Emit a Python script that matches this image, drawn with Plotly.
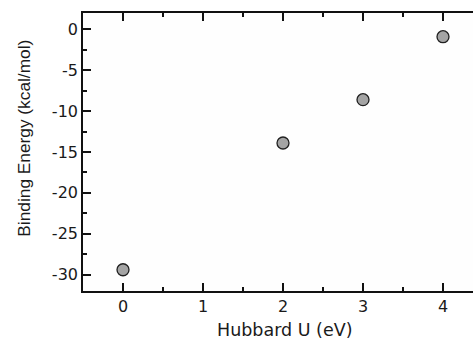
import plotly.graph_objects as go

hubbard_u = [0, 2, 3, 4]
binding_energy = [-29.4, -13.9, -8.6, -0.9]
x_ticks = [0, 1, 2, 3, 4]
y_ticks = [0, -5, -10, -15, -20, -25, -30]
y_labels = ["0", "-5", "-10", "-15", "-20", "-25", "-30"]

fig = go.Figure()
fig.add_trace(go.Scatter(
    x=hubbard_u, y=binding_energy, mode="markers",
    marker=dict(size=12, color="#a4a4a4", line=dict(color="#202020", width=1.3)),
    showlegend=False,
))

tickfont = dict(family="DejaVu Sans, sans-serif", size=16, color="#1a1a1a")
def common():
    return dict(ticks="inside", ticklen=8, tickwidth=1.6, tickcolor="#111111",
              showline=True, linecolor="#111111", linewidth=1.6,
              showgrid=False, zeroline=False)
def minor(d):
    return dict(ticks="inside", ticklen=4, dtick=d, tick0=0, tickcolor="#111111",
                tickwidth=1.6, showgrid=False)

fig.update_layout(
    width=473, height=343,
    margin=dict(l=83, r=0, t=13, b=52),
    paper_bgcolor="white", plot_bgcolor="#fefefe",
    xaxis=dict(range=[-0.5, 4.375], tickvals=x_ticks, mirror=False, tickfont=tickfont,
               minor=minor(0.5), **common()),
    xaxis2=dict(overlaying="x", matches="x", side="top", showticklabels=False,
                range=[-0.5, 4.375], tickvals=x_ticks, minor=minor(0.5), **common()),
    yaxis=dict(range=[-32, 2], tickvals=y_ticks, ticktext=y_labels, mirror=False, tickfont=tickfont,
               minor=minor(2.5), **common()),
    annotations=[
        dict(text="Hubbard U (eV)", xref="paper", yref="paper", x=0.518, y=0, yshift=-27,
             yanchor="top", showarrow=False,
             font=dict(family="DejaVu Sans, sans-serif", size=17.5, color="#1a1a1a")),
        dict(text="Binding Energy (kcal/mol)", xref="paper", yref="paper", x=0, xshift=-59,
             y=0.548, textangle=-90, showarrow=False, xanchor="center", yanchor="middle",
             font=dict(family="Liberation Sans, Arial, sans-serif", size=17.3, color="#1a1a1a")),
    ],
)
fig.add_trace(go.Scatter(x=[None], y=[None], xaxis="x2", showlegend=False, hoverinfo="skip"))
fig.write_html("out.html")
